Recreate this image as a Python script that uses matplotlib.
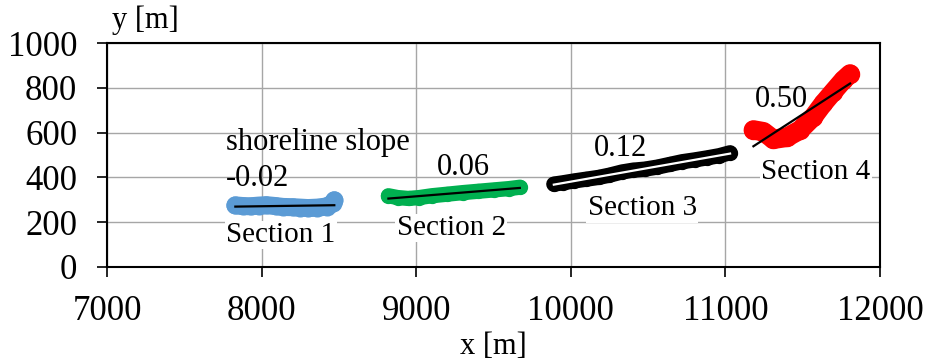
import numpy as np
import matplotlib
matplotlib.use('Agg')
import matplotlib.pyplot as plt

plt.rcParams['font.family'] = ['Liberation Serif', 'DejaVu Serif']

# Shoreline points per section
sec1_x = [7830, 7880, 7930, 7980, 8030, 8090, 8140, 8200, 8250, 8300, 8360, 8420, 8460, 8470]
sec1_y = [275, 272, 271, 274, 276, 272, 268, 267, 265, 263, 265, 270, 284, 298]

sec2_x = [8820, 8880, 8950, 9020, 9100, 9200, 9300, 9400, 9500, 9600, 9670]
sec2_y = [318, 310, 306, 310, 318, 325, 332, 338, 344, 350, 356]

sec3_x = [9890, 9950, 10020, 10100, 10180, 10250, 10330, 10400, 10480, 10560,
          10640, 10720, 10800, 10880, 10960, 11030]
sec3_y = [370, 376, 384, 392, 400, 410, 424, 432, 437, 446, 458, 470, 478, 487, 497, 510]

sec4_x = [11181, 11246, 11310, 11397, 11483, 11569, 11634, 11698, 11763, 11806]
sec4_y = [612, 604, 570, 579, 612, 671, 731, 783, 835, 862]

slope_labels = ['-0.02', '0.06', '0.12', '0.50']
section_names = ['Section 1', 'Section 2', 'Section 3', 'Section 4']

# x, y, colour, trendline colour, band width
sections = [(sec1_x, sec1_y, '#5B9BD5', 'black', 13),
            (sec2_x, sec2_y, '#00B050', 'black', 11),
            (sec3_x, sec3_y, 'black', 'white', 11),
            (sec4_x, sec4_y, '#FF0000', 'black', 14)]

fig = plt.figure(figsize=(9.25, 3.63), dpi=100)
ax = fig.add_axes([0.1157, 0.2645, 0.8357, 0.617])

for xs, ys, col, tcol, w in sections:
    ax.plot(xs, ys, '-o', color=col, lw=w, ms=w, mew=0,
            solid_capstyle='round', solid_joinstyle='round', zorder=3)
    # linear trendline
    k, b = np.polyfit(xs, ys, 1)
    tx = np.array([min(xs), max(xs)])
    ax.plot(tx, k * tx + b, color=tcol, lw=1.6, zorder=4)

ax.set_xlim(7000, 12000)
ax.set_ylim(0, 1000)
ax.set_xticks(np.arange(7000, 12001, 1000))
ax.set_yticks(np.arange(0, 1001, 200))
ax.grid(True, color='#a6a6a6', lw=1)
ax.set_axisbelow(True)
for s in ax.spines.values():
    s.set_color('black')
    s.set_linewidth(1.5)
ax.tick_params(labelsize=25, direction='out', length=7.5, width=1.2)
ax.tick_params(axis='x', pad=12.5)
ax.tick_params(axis='y', pad=14)

lab = 22
ax.text(7770, 558, 'shoreline slope', fontsize=lab, va='center', ha='left', zorder=5)
ax.text(7770, 397, slope_labels[0], fontsize=lab, va='center', ha='left', zorder=5)
ax.text(9303, 442, slope_labels[1], fontsize=lab, va='center', ha='center', zorder=5)
ax.text(10318, 531, slope_labels[2], fontsize=lab, va='center', ha='center', zorder=5)
ax.text(11361, 746, slope_labels[3], fontsize=lab, va='center', ha='center', zorder=5)

box = dict(facecolor='white', edgecolor='none', pad=1)
sec = 21
ax.text(8125, 143, section_names[0], fontsize=sec, va='center', ha='center', zorder=5, bbox=box)
ax.text(9226, 174, section_names[1], fontsize=sec, va='center', ha='center', zorder=5, bbox=box)
ax.text(10462, 263, section_names[2], fontsize=sec, va='center', ha='center', zorder=5, bbox=box)
ax.text(11586, 424, section_names[3], fontsize=sec, va='center', ha='center', zorder=5, bbox=box)

fig.text(145 / 925, 1 - 20 / 363, 'y [m]', fontsize=22, ha='center', va='center')
fig.text(493 / 925, 1 - 347 / 363, 'x [m]', fontsize=22, ha='center', va='center')

fig.savefig('out.png', dpi=100)
